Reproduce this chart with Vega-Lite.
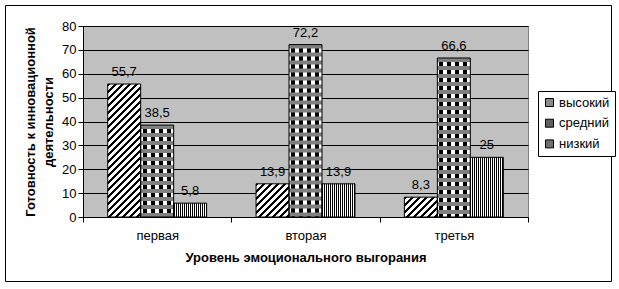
{
  "$schema": "https://vega.github.io/schema/vega-lite/v6.json",
  "width": 445,
  "height": 191,
  "autosize": {"type": "none"},
  "padding": {"left": 83, "top": 26, "right": 91, "bottom": 72},
  "background": "white",
  "config": {
    "font": "Liberation Sans",
    "locale": {"number": {"decimal": ",", "thousands": " ", "grouping": [3], "currency": ["", ""]}},
    "view": {"fill": "#c0c0c0", "stroke": "#808080", "strokeWidth": 1},
    "axis": {
      "labelFont": "Liberation Sans", "labelFontSize": 13, "labelColor": "#000",
      "titleFont": "Liberation Sans", "titleFontSize": 13, "titleFontWeight": "bold", "titleColor": "#000",
      "domainColor": "#000", "tickColor": "#000", "tickSize": 5, "gridColor": "#000", "gridOpacity": 1
    },
    "legend": {
      "orient": "none", "legendX": 455, "legendY": 65, "padding": 5,
      "strokeColor": "#000", "fillColor": "#fff", "strokeWidth": 1, "cornerRadius": 0,
      "labelFont": "Liberation Sans", "labelFontSize": 13, "labelColor": "#000",
      "symbolType": "square", "symbolSize": 64, "symbolStrokeColor": "#000", "symbolStrokeWidth": 1,
      "rowPadding": 6.7, "labelOffset": 3
    }
  },
  "data": {"values": [
    {"stage": "первая", "level": "высокий", "value": 55.7},
    {"stage": "первая", "level": "средний", "value": 38.5},
    {"stage": "первая", "level": "низкий", "value": 5.8},
    {"stage": "вторая", "level": "высокий", "value": 13.9},
    {"stage": "вторая", "level": "средний", "value": 72.2},
    {"stage": "вторая", "level": "низкий", "value": 13.9},
    {"stage": "третья", "level": "высокий", "value": 8.3},
    {"stage": "третья", "level": "средний", "value": 66.6},
    {"stage": "третья", "level": "низкий", "value": 25}
  ]},
  "resolve": {"scale": {"x": "independent", "y": "independent"}},
  "layer": [
    {
      "data": {"values": [{"frame": 1}]},
      "mark": {"type": "rect", "fill": null, "fillOpacity": 0, "stroke": "#000", "strokeWidth": 1},
      "encoding": {
        "x": {"datum": 0, "type": "quantitative", "scale": {"domain": [0, 1], "range": [-77.5, 528.5], "nice": false, "zero": false}, "axis": null},
        "x2": {"datum": 1},
        "y": {"datum": 0, "type": "quantitative", "scale": {"domain": [0, 1], "range": [-20.5, 255.5], "nice": false, "zero": false}, "axis": null},
        "y2": {"datum": 1}
      }
    },
    {
      "encoding": {
        "x": {
          "field": "stage", "type": "nominal", "sort": ["первая", "вторая", "третья"],
          "scale": {"paddingInner": 0, "paddingOuter": 0},
          "axis": {"title": "Уровень эмоционального выгорания", "labelAngle": 0, "tickBand": "extent", "labelPadding": 7, "titlePadding": 9, "grid": false}
        },
        "xOffset": {
          "field": "level", "type": "nominal", "sort": ["высокий", "средний", "низкий"],
          "scale": {"paddingInner": 0, "paddingOuter": 0.75}
        },
        "y": {
          "field": "value", "type": "quantitative",
          "scale": {"domain": [0, 80], "nice": false},
          "axis": {"values": [0, 10, 20, 30, 40, 50, 60, 70, 80], "grid": true, "title": ["Готовность к инновационной", "деятельности"], "labelPadding": 2, "titlePadding": 6, "titleLineHeight": 18}
        }
      },
      "layer": [
        {
          "mark": {"type": "bar", "strokeWidth": 0},
          "encoding": {
            "fill": {
              "field": "level", "type": "nominal",
              "scale": {
                "domain": ["высокий", "средний", "низкий"],
                "range": ["#8a8a8a", "#606060", "#707070"]
              },
              "legend": {
                "title": null,
                "encode": {
                  "symbols": {
                    "enter": {
                      "fill": {"signal": "datum.value === 'высокий' ? {gradient: 'linear', x1: 0, y1: 0, x2: 1, y2: 1, stops: [{offset: 0, color: '#fff'}, {offset: 0.5, color: '#fff'}, {offset: 0.5, color: '#000'}, {offset: 1, color: '#000'}]} : datum.value === 'средний' ? {gradient: 'linear', x1: 0, y1: 0, x2: 1, y2: 0, stops: [{offset: 0, color: '#000'}, {offset: 0.25, color: '#000'}, {offset: 0.25, color: '#999'}, {offset: 0.5, color: '#999'}, {offset: 0.5, color: '#000'}, {offset: 0.75, color: '#000'}, {offset: 0.75, color: '#999'}, {offset: 1, color: '#999'}]} : {gradient: 'linear', x1: 0, y1: 0, x2: 1, y2: 0, stops: [{offset: 0, color: '#000'}, {offset: 0.25, color: '#000'}, {offset: 0.25, color: '#fff'}, {offset: 0.375, color: '#fff'}, {offset: 0.375, color: '#000'}, {offset: 0.5, color: '#000'}, {offset: 0.5, color: '#fff'}, {offset: 0.625, color: '#fff'}, {offset: 0.625, color: '#000'}, {offset: 0.75, color: '#000'}, {offset: 0.75, color: '#fff'}, {offset: 0.875, color: '#fff'}, {offset: 0.875, color: '#000'}, {offset: 1, color: '#000'}]}"},
                      "stroke": {"value": "#000"},
                      "strokeWidth": {"value": 1}
                    },
                    "update": {
                      "fill": {"signal": "datum.value === 'высокий' ? {gradient: 'linear', x1: 0, y1: 0, x2: 1, y2: 1, stops: [{offset: 0, color: '#fff'}, {offset: 0.5, color: '#fff'}, {offset: 0.5, color: '#000'}, {offset: 1, color: '#000'}]} : datum.value === 'средний' ? {gradient: 'linear', x1: 0, y1: 0, x2: 1, y2: 0, stops: [{offset: 0, color: '#000'}, {offset: 0.25, color: '#000'}, {offset: 0.25, color: '#999'}, {offset: 0.5, color: '#999'}, {offset: 0.5, color: '#000'}, {offset: 0.75, color: '#000'}, {offset: 0.75, color: '#999'}, {offset: 1, color: '#999'}]} : {gradient: 'linear', x1: 0, y1: 0, x2: 1, y2: 0, stops: [{offset: 0, color: '#000'}, {offset: 0.25, color: '#000'}, {offset: 0.25, color: '#fff'}, {offset: 0.375, color: '#fff'}, {offset: 0.375, color: '#000'}, {offset: 0.5, color: '#000'}, {offset: 0.5, color: '#fff'}, {offset: 0.625, color: '#fff'}, {offset: 0.625, color: '#000'}, {offset: 0.75, color: '#000'}, {offset: 0.75, color: '#fff'}, {offset: 0.875, color: '#fff'}, {offset: 0.875, color: '#000'}, {offset: 1, color: '#000'}]}"},
                      "stroke": {"value": "#000"},
                      "strokeWidth": {"value": 1}
                    }
                  }
                }
              },
              "condition": [
                {"test": "datum.level === 'средний'", "value": {"gradient": "linear", "x1": 0, "y1": 0, "x2": 1, "y2": 0, "stops": [{"offset": 0, "color": "#fff"}, {"offset": 0.0607, "color": "#fff"}, {"offset": 0.0607, "color": "#000"}, {"offset": 0.182, "color": "#000"}, {"offset": 0.182, "color": "#fff"}, {"offset": 0.3034, "color": "#fff"}, {"offset": 0.3034, "color": "#000"}, {"offset": 0.4248, "color": "#000"}, {"offset": 0.4248, "color": "#fff"}, {"offset": 0.5461, "color": "#fff"}, {"offset": 0.5461, "color": "#000"}, {"offset": 0.6675, "color": "#000"}, {"offset": 0.6675, "color": "#fff"}, {"offset": 0.7888, "color": "#fff"}, {"offset": 0.7888, "color": "#000"}, {"offset": 0.9102, "color": "#000"}, {"offset": 0.9102, "color": "#fff"}, {"offset": 1, "color": "#fff"}]}},
                {"test": "datum.level === 'низкий'", "value": {"gradient": "linear", "x1": 0, "y1": 0, "x2": 1, "y2": 0, "stops": [{"offset": 0, "color": "#000"}, {"offset": 0.0303, "color": "#000"}, {"offset": 0.0303, "color": "#fff"}, {"offset": 0.0607, "color": "#fff"}, {"offset": 0.0607, "color": "#000"}, {"offset": 0.091, "color": "#000"}, {"offset": 0.091, "color": "#fff"}, {"offset": 0.1214, "color": "#fff"}, {"offset": 0.1214, "color": "#000"}, {"offset": 0.1517, "color": "#000"}, {"offset": 0.1517, "color": "#fff"}, {"offset": 0.182, "color": "#fff"}, {"offset": 0.182, "color": "#000"}, {"offset": 0.2124, "color": "#000"}, {"offset": 0.2124, "color": "#fff"}, {"offset": 0.2427, "color": "#fff"}, {"offset": 0.2427, "color": "#000"}, {"offset": 0.2731, "color": "#000"}, {"offset": 0.2731, "color": "#fff"}, {"offset": 0.3034, "color": "#fff"}, {"offset": 0.3034, "color": "#000"}, {"offset": 0.3337, "color": "#000"}, {"offset": 0.3337, "color": "#fff"}, {"offset": 0.3641, "color": "#fff"}, {"offset": 0.3641, "color": "#000"}, {"offset": 0.3944, "color": "#000"}, {"offset": 0.3944, "color": "#fff"}, {"offset": 0.4248, "color": "#fff"}, {"offset": 0.4248, "color": "#000"}, {"offset": 0.4551, "color": "#000"}, {"offset": 0.4551, "color": "#fff"}, {"offset": 0.4854, "color": "#fff"}, {"offset": 0.4854, "color": "#000"}, {"offset": 0.5158, "color": "#000"}, {"offset": 0.5158, "color": "#fff"}, {"offset": 0.5461, "color": "#fff"}, {"offset": 0.5461, "color": "#000"}, {"offset": 0.5765, "color": "#000"}, {"offset": 0.5765, "color": "#fff"}, {"offset": 0.6068, "color": "#fff"}, {"offset": 0.6068, "color": "#000"}, {"offset": 0.6371, "color": "#000"}, {"offset": 0.6371, "color": "#fff"}, {"offset": 0.6675, "color": "#fff"}, {"offset": 0.6675, "color": "#000"}, {"offset": 0.6978, "color": "#000"}, {"offset": 0.6978, "color": "#fff"}, {"offset": 0.7282, "color": "#fff"}, {"offset": 0.7282, "color": "#000"}, {"offset": 0.7585, "color": "#000"}, {"offset": 0.7585, "color": "#fff"}, {"offset": 0.7888, "color": "#fff"}, {"offset": 0.7888, "color": "#000"}, {"offset": 0.8192, "color": "#000"}, {"offset": 0.8192, "color": "#fff"}, {"offset": 0.8495, "color": "#fff"}, {"offset": 0.8495, "color": "#000"}, {"offset": 0.8799, "color": "#000"}, {"offset": 0.8799, "color": "#fff"}, {"offset": 0.9102, "color": "#fff"}, {"offset": 0.9102, "color": "#000"}, {"offset": 0.9405, "color": "#000"}, {"offset": 0.9405, "color": "#fff"}, {"offset": 0.9709, "color": "#fff"}, {"offset": 0.9709, "color": "#000"}, {"offset": 1, "color": "#000"}]}},
                {"test": "datum.level === 'высокий' && datum.stage === 'первая'", "value": {"gradient": "linear", "x1": 0, "y1": 0, "x2": 0.2914, "y2": 1.1756, "stops": [{"offset": 0, "color": "#000"}, {"offset": 0.0181, "color": "#000"}, {"offset": 0.0181, "color": "#fff"}, {"offset": 0.0422, "color": "#fff"}, {"offset": 0.0422, "color": "#000"}, {"offset": 0.0603, "color": "#000"}, {"offset": 0.0603, "color": "#fff"}, {"offset": 0.0844, "color": "#fff"}, {"offset": 0.0844, "color": "#000"}, {"offset": 0.1024, "color": "#000"}, {"offset": 0.1024, "color": "#fff"}, {"offset": 0.1266, "color": "#fff"}, {"offset": 0.1266, "color": "#000"}, {"offset": 0.1446, "color": "#000"}, {"offset": 0.1446, "color": "#fff"}, {"offset": 0.1687, "color": "#fff"}, {"offset": 0.1687, "color": "#000"}, {"offset": 0.1868, "color": "#000"}, {"offset": 0.1868, "color": "#fff"}, {"offset": 0.2109, "color": "#fff"}, {"offset": 0.2109, "color": "#000"}, {"offset": 0.229, "color": "#000"}, {"offset": 0.229, "color": "#fff"}, {"offset": 0.2531, "color": "#fff"}, {"offset": 0.2531, "color": "#000"}, {"offset": 0.2712, "color": "#000"}, {"offset": 0.2712, "color": "#fff"}, {"offset": 0.2953, "color": "#fff"}, {"offset": 0.2953, "color": "#000"}, {"offset": 0.3134, "color": "#000"}, {"offset": 0.3134, "color": "#fff"}, {"offset": 0.3375, "color": "#fff"}, {"offset": 0.3375, "color": "#000"}, {"offset": 0.3555, "color": "#000"}, {"offset": 0.3555, "color": "#fff"}, {"offset": 0.3797, "color": "#fff"}, {"offset": 0.3797, "color": "#000"}, {"offset": 0.3977, "color": "#000"}, {"offset": 0.3977, "color": "#fff"}, {"offset": 0.4218, "color": "#fff"}, {"offset": 0.4218, "color": "#000"}, {"offset": 0.4399, "color": "#000"}, {"offset": 0.4399, "color": "#fff"}, {"offset": 0.464, "color": "#fff"}, {"offset": 0.464, "color": "#000"}, {"offset": 0.4821, "color": "#000"}, {"offset": 0.4821, "color": "#fff"}, {"offset": 0.5062, "color": "#fff"}, {"offset": 0.5062, "color": "#000"}, {"offset": 0.5243, "color": "#000"}, {"offset": 0.5243, "color": "#fff"}, {"offset": 0.5484, "color": "#fff"}, {"offset": 0.5484, "color": "#000"}, {"offset": 0.5665, "color": "#000"}, {"offset": 0.5665, "color": "#fff"}, {"offset": 0.5906, "color": "#fff"}, {"offset": 0.5906, "color": "#000"}, {"offset": 0.6087, "color": "#000"}, {"offset": 0.6087, "color": "#fff"}, {"offset": 0.6328, "color": "#fff"}, {"offset": 0.6328, "color": "#000"}, {"offset": 0.6508, "color": "#000"}, {"offset": 0.6508, "color": "#fff"}, {"offset": 0.6749, "color": "#fff"}, {"offset": 0.6749, "color": "#000"}, {"offset": 0.693, "color": "#000"}, {"offset": 0.693, "color": "#fff"}, {"offset": 0.7171, "color": "#fff"}, {"offset": 0.7171, "color": "#000"}, {"offset": 0.7352, "color": "#000"}, {"offset": 0.7352, "color": "#fff"}, {"offset": 0.7593, "color": "#fff"}, {"offset": 0.7593, "color": "#000"}, {"offset": 0.7774, "color": "#000"}, {"offset": 0.7774, "color": "#fff"}, {"offset": 0.8015, "color": "#fff"}, {"offset": 0.8015, "color": "#000"}, {"offset": 0.8196, "color": "#000"}, {"offset": 0.8196, "color": "#fff"}, {"offset": 0.8437, "color": "#fff"}, {"offset": 0.8437, "color": "#000"}, {"offset": 0.8618, "color": "#000"}, {"offset": 0.8618, "color": "#fff"}, {"offset": 0.8859, "color": "#fff"}, {"offset": 0.8859, "color": "#000"}, {"offset": 0.9039, "color": "#000"}, {"offset": 0.9039, "color": "#fff"}, {"offset": 0.9281, "color": "#fff"}, {"offset": 0.9281, "color": "#000"}, {"offset": 0.9461, "color": "#000"}, {"offset": 0.9461, "color": "#fff"}, {"offset": 0.9702, "color": "#fff"}, {"offset": 0.9702, "color": "#000"}, {"offset": 0.9883, "color": "#000"}, {"offset": 0.9883, "color": "#fff"}, {"offset": 1, "color": "#fff"}]}},
                {"test": "datum.level === 'высокий' && datum.stage === 'вторая'", "value": {"gradient": "linear", "x1": 0, "y1": 0, "x2": 0.9965, "y2": 1.0034, "stops": [{"offset": 0, "color": "#000"}, {"offset": 0.0454, "color": "#000"}, {"offset": 0.0454, "color": "#fff"}, {"offset": 0.1058, "color": "#fff"}, {"offset": 0.1058, "color": "#000"}, {"offset": 0.1512, "color": "#000"}, {"offset": 0.1512, "color": "#fff"}, {"offset": 0.2116, "color": "#fff"}, {"offset": 0.2116, "color": "#000"}, {"offset": 0.257, "color": "#000"}, {"offset": 0.257, "color": "#fff"}, {"offset": 0.3175, "color": "#fff"}, {"offset": 0.3175, "color": "#000"}, {"offset": 0.3628, "color": "#000"}, {"offset": 0.3628, "color": "#fff"}, {"offset": 0.4233, "color": "#fff"}, {"offset": 0.4233, "color": "#000"}, {"offset": 0.4686, "color": "#000"}, {"offset": 0.4686, "color": "#fff"}, {"offset": 0.5291, "color": "#fff"}, {"offset": 0.5291, "color": "#000"}, {"offset": 0.5745, "color": "#000"}, {"offset": 0.5745, "color": "#fff"}, {"offset": 0.6349, "color": "#fff"}, {"offset": 0.6349, "color": "#000"}, {"offset": 0.6803, "color": "#000"}, {"offset": 0.6803, "color": "#fff"}, {"offset": 0.7407, "color": "#fff"}, {"offset": 0.7407, "color": "#000"}, {"offset": 0.7861, "color": "#000"}, {"offset": 0.7861, "color": "#fff"}, {"offset": 0.8466, "color": "#fff"}, {"offset": 0.8466, "color": "#000"}, {"offset": 0.8919, "color": "#000"}, {"offset": 0.8919, "color": "#fff"}, {"offset": 0.9524, "color": "#fff"}, {"offset": 0.9524, "color": "#000"}, {"offset": 0.9977, "color": "#000"}, {"offset": 0.9977, "color": "#fff"}, {"offset": 1, "color": "#fff"}]}},
                {"test": "datum.level === 'высокий' && datum.stage === 'третья'", "value": {"gradient": "linear", "x1": 0, "y1": 0, "x2": 1.1761, "y2": 0.7072, "stops": [{"offset": 0, "color": "#000"}, {"offset": 0.0568, "color": "#000"}, {"offset": 0.0568, "color": "#fff"}, {"offset": 0.1326, "color": "#fff"}, {"offset": 0.1326, "color": "#000"}, {"offset": 0.1895, "color": "#000"}, {"offset": 0.1895, "color": "#fff"}, {"offset": 0.2653, "color": "#fff"}, {"offset": 0.2653, "color": "#000"}, {"offset": 0.3221, "color": "#000"}, {"offset": 0.3221, "color": "#fff"}, {"offset": 0.3979, "color": "#fff"}, {"offset": 0.3979, "color": "#000"}, {"offset": 0.4547, "color": "#000"}, {"offset": 0.4547, "color": "#fff"}, {"offset": 0.5305, "color": "#fff"}, {"offset": 0.5305, "color": "#000"}, {"offset": 0.5874, "color": "#000"}, {"offset": 0.5874, "color": "#fff"}, {"offset": 0.6631, "color": "#fff"}, {"offset": 0.6631, "color": "#000"}, {"offset": 0.72, "color": "#000"}, {"offset": 0.72, "color": "#fff"}, {"offset": 0.7958, "color": "#fff"}, {"offset": 0.7958, "color": "#000"}, {"offset": 0.8526, "color": "#000"}, {"offset": 0.8526, "color": "#fff"}, {"offset": 0.9284, "color": "#fff"}, {"offset": 0.9284, "color": "#000"}, {"offset": 0.9852, "color": "#000"}, {"offset": 0.9852, "color": "#fff"}, {"offset": 1, "color": "#fff"}]}}
              ]
            }
          }
        },
        {
          "transform": [{"filter": "datum.level === 'средний'"}],
          "mark": {"type": "rule", "stroke": "#808080", "strokeWidth": 33, "strokeDash": [4, 4], "strokeCap": "butt"},
          "encoding": {
            "y2": {"datum": 0}
          }
        },
        {
          "mark": {"type": "bar", "fill": "#000", "fillOpacity": 0, "stroke": "#000", "strokeWidth": 1}
        },
        {
          "mark": {"type": "text", "baseline": "alphabetic", "align": "center", "dy": -8, "fontSize": 13, "font": "Liberation Sans", "color": "#000"},
          "encoding": {
            "text": {"field": "value", "type": "quantitative", "format": ".1~f"}
          }
        }
      ]
    }
  ]
}
